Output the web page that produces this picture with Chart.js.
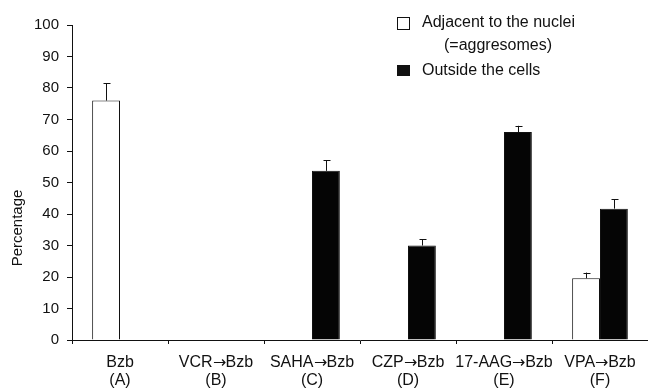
<!DOCTYPE html>
<html>
<head>
<meta charset="utf-8">
<script src="https://cdn.jsdelivr.net/npm/chart.js@4.4.0/dist/chart.umd.min.js"></script>
<style>
  /* the arrow glyph of Liberation Sans is tiny, borrow DejaVu's one */
  @font-face { font-family: 'ArrowGlyph'; src: local('DejaVu Sans'); unicode-range: U+2192; }
  html, body { margin: 0; padding: 0; background: #fff; }
  #wrap { width: 648px; height: 388px; position: relative; }
</style>
</head>
<body>
<div id="wrap"><canvas id="chart"></canvas></div>
<script>
// data
const categories = [
    ['Bzb', '(A)'],
    ['VCR\u2192Bzb', '(B)'],
    ['SAHA\u2192Bzb', '(C)'],
    ['CZP\u2192Bzb', '(D)'],
    ['17-AAG\u2192Bzb', '(E)'],
    ['VPA\u2192Bzb', '(F)']
];
const adjacentValues = [76, null, null, null, null, 19.6];
const adjacentErrors = [5.5, null, null, null, null, 1.8];
const outsideValues = [null, null, 53.7, 30, 66, 41.7];
const outsideErrors = [null, null, 3.3, 2, 2, 3];
const yTicks = [0, 10, 20, 30, 40, 50, 60, 70, 80, 90, 100];
const legendAdjacent = ['Adjacent to the nuclei', '(=aggresomes)'];
const legendOutside = 'Outside the cells';

const FONT = "ArrowGlyph, 'Liberation Sans', Arial, sans-serif";
const INK = '#111';

// upper error bars with a small cap
const errorBars = {
    id: 'errorBars',
    afterDatasetsDraw(chart) {
        const ctx = chart.ctx;
        const y = chart.scales.y;
        const errs = [adjacentErrors, outsideErrors];
        ctx.save();
        ctx.strokeStyle = INK;
        ctx.lineWidth = 1;
        chart.data.datasets.forEach((ds, di) => {
            const meta = chart.getDatasetMeta(di);
            ds.data.forEach((v, i) => {
                const e = errs[di][i];
                if (v == null || e == null) return;
                const x = Math.round(meta.data[i].x) + 0.5;
                const y0 = y.getPixelForValue(v);
                const y1 = y.getPixelForValue(v + e);
                ctx.beginPath();
                ctx.moveTo(x, y0);
                ctx.lineTo(x, y1);
                ctx.moveTo(x - 3, Math.round(y1) + 0.5);
                ctx.lineTo(x + 4, Math.round(y1) + 0.5);
                ctx.stroke();
            });
        });
        ctx.restore();
    }
};

// legend and y-axis title, placed like the original figure
const decorations = {
    id: 'decorations',
    afterDraw(chart) {
        const ctx = chart.ctx;
        ctx.save();
        ctx.fillStyle = INK;
        ctx.strokeStyle = INK;
        ctx.lineWidth = 1;
        ctx.font = '16px ' + FONT;
        ctx.textBaseline = 'middle';

        ctx.fillStyle = '#fff';
        ctx.fillRect(397.5, 17.5, 12, 12);
        ctx.strokeRect(397.5, 17.5, 12, 12);
        ctx.fillStyle = INK;
        ctx.textAlign = 'left';
        ctx.fillText(legendAdjacent[0], 422, 23);
        ctx.textAlign = 'center';
        ctx.fillText(legendAdjacent[1], 498, 46);

        ctx.fillRect(397, 65, 13, 11);
        ctx.textAlign = 'left';
        ctx.fillText(legendOutside, 422, 71);

        ctx.font = '15px ' + FONT;
        ctx.translate(18, 228);
        ctx.rotate(-Math.PI / 2);
        ctx.textAlign = 'center';
        ctx.fillText('Percentage', 0, 0);
        ctx.restore();
    }
};

function draw() {
    new Chart(document.getElementById('chart'), {
        type: 'bar',
        data: {
            labels: categories,
            datasets: [
                {
                    label: legendAdjacent.join(' '),
                    data: adjacentValues,
                    backgroundColor: '#fff',
                    borderColor: INK,
                    borderWidth: 1,
                    categoryPercentage: 0.58,
                    barPercentage: 1
                },
                {
                    label: legendOutside,
                    data: outsideValues,
                    backgroundColor: '#050505',
                    borderColor: INK,
                    borderWidth: 1,
                    categoryPercentage: 0.58,
                    barPercentage: 1
                }
            ]
        },
        options: {
            responsive: true,
            maintainAspectRatio: false,
            animation: false,
            layout: { padding: { top: 25, right: 0, bottom: 0, left: 0 } },
            plugins: {
                legend: { display: false },
                tooltip: { enabled: false }
            },
            scales: {
                x: {
                    offset: true,
                    grid: {
                        offset: true,
                        drawOnChartArea: false,
                        drawTicks: true,
                        tickLength: 4,
                        color: INK
                    },
                    border: { color: INK, width: 1 },
                    ticks: {
                        color: INK,
                        padding: 10,
                        maxRotation: 0,
                        autoSkip: false,
                        font: { family: FONT, size: 16, lineHeight: 1.12 }
                    },
                    afterFit(scale) { scale.height = 48; }
                },
                y: {
                    min: 0,
                    max: 100,
                    afterBuildTicks(scale) { scale.ticks = yTicks.map(v => ({ value: v })); },
                    grid: {
                        drawOnChartArea: false,
                        drawTicks: true,
                        tickLength: 5,
                        color: INK
                    },
                    border: { color: INK, width: 1 },
                    ticks: {
                        color: INK,
                        padding: 8,
                        font: { family: FONT, size: 15 }
                    },
                    afterFit(scale) { scale.width = 72; }
                }
            }
        },
        plugins: [errorBars, decorations]
    });
}

document.fonts.load('16px ArrowGlyph', '\u2192').then(draw, draw);
</script>
</body>
</html>
